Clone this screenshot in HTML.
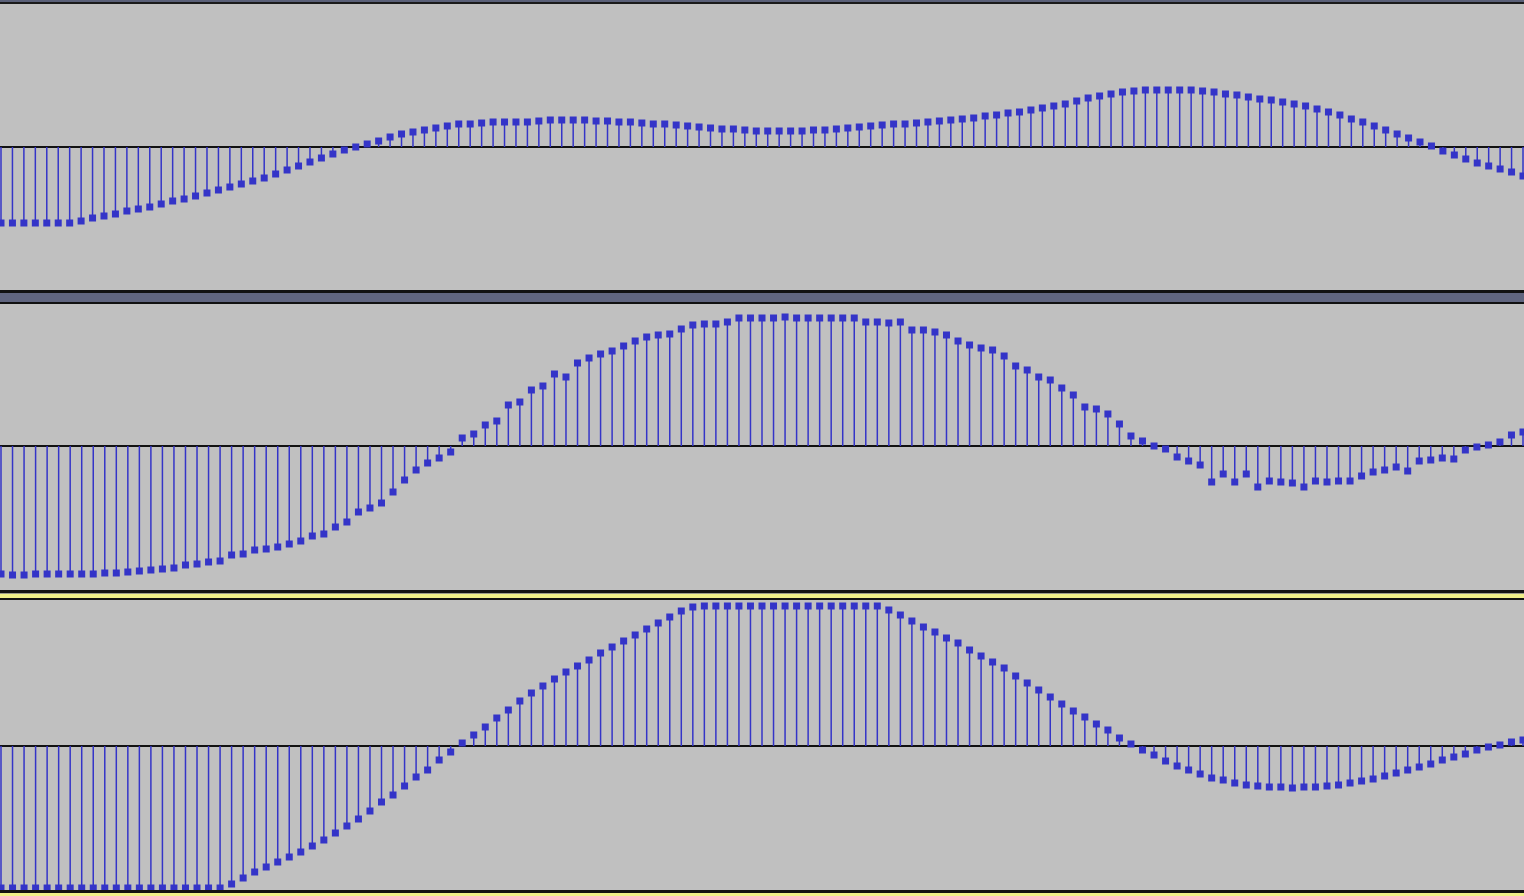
<!DOCTYPE html>
<html><head><meta charset="utf-8"><style>
html,body{margin:0;padding:0;background:#c0c0c0;}
svg{display:block;}
</style></head><body>
<svg id="chart" width="1524" height="896" viewBox="0 0 1524 896" xmlns="http://www.w3.org/2000/svg">
<rect x="0" y="0" width="1524" height="896" fill="#c0c0c0"/>
<rect x="0" y="0" width="1524" height="2" fill="#5a6078"/>
<rect x="0" y="2" width="1524" height="2" fill="#1a1a1a"/>
<rect x="0" y="290" width="1524" height="3" fill="#111"/>
<rect x="0" y="293" width="1524" height="9" fill="#60657f"/>
<rect x="0" y="302" width="1524" height="2" fill="#111"/>
<rect x="0" y="590" width="1524" height="3" fill="#111"/>
<rect x="0" y="593" width="1524" height="1" fill="#9a9a8a"/>
<rect x="0" y="594" width="1524" height="4" fill="#eeee88"/>
<rect x="0" y="598" width="1524" height="2" fill="#111"/>
<rect x="0" y="890" width="1524" height="3" fill="#111"/>
<rect x="0" y="893" width="1524" height="3" fill="#eeee88"/>
<g id="plots"></g>
</svg>
<script>
// sample levels on a +/-142 full-scale range
const track1Values = [-76,-76,-76,-76,-76,-76,-76,-74,-71,-69,-67,-64,-62,-60,-57,-54,-52,-49,-46,-43,-40,-37,-34,-31,-27,-23,-19,-15,-11,-7,-3,0,3,6,10,13,15,17,19,21,23,23,24,25,25,25,25,26,27,27,27,27,26,26,25,25,24,23,23,22,21,20,19,18,18,17,16,16,16,16,16,17,17,18,19,20,21,22,23,23,24,25,26,27,28,29,31,32,34,35,37,39,41,43,46,49,51,53,55,56,57,57,57,57,57,56,55,53,52,50,48,47,45,43,41,38,35,32,28,25,21,17,13,9,5,1,-4,-8,-12,-16,-19,-22,-25,-29];
const track2Values = [-128,-129,-129,-128,-128,-128,-128,-128,-128,-127,-127,-126,-125,-124,-123,-122,-119,-118,-116,-115,-109,-108,-104,-103,-101,-98,-95,-90,-88,-81,-76,-66,-62,-57,-46,-34,-24,-17,-12,-6,8,12,21,25,41,44,56,60,72,69,83,88,92,95,100,105,109,111,112,117,121,122,122,124,128,128,128,128,129,128,128,128,128,128,128,124,124,123,124,116,116,114,111,105,101,98,96,90,80,76,69,66,58,51,39,37,32,22,10,5,0,-3,-11,-15,-19,-36,-28,-36,-28,-41,-35,-36,-37,-41,-35,-36,-35,-35,-30,-26,-24,-21,-25,-15,-14,-12,-13,-4,-1,1,4,11,14];
const track3Values = [-142,-142,-142,-142,-142,-142,-142,-142,-142,-142,-142,-142,-142,-142,-142,-142,-142,-142,-142,-142,-138,-132,-126,-121,-116,-111,-106,-100,-94,-87,-80,-73,-65,-56,-49,-40,-31,-24,-14,-6,3,11,19,28,36,45,53,60,67,74,80,86,93,99,105,111,117,123,129,135,139,140,140,140,140,140,140,140,140,140,140,140,140,140,140,140,140,136,131,125,119,114,108,103,96,90,84,78,70,63,56,49,42,35,29,22,16,8,2,-4,-9,-15,-20,-24,-28,-32,-34,-37,-39,-40,-41,-41,-42,-41,-41,-40,-39,-37,-35,-33,-30,-27,-24,-21,-18,-14,-11,-8,-4,-1,1,4,6];

const FULL = 142;
const tracks = [
  {name:'track-1', values:track1Values, top:4, bottom:290, center:147},
  {name:'track-2', values:track2Values, top:304, bottom:590, center:446},
  {name:'track-3', values:track3Values, top:600, bottom:890, center:746}
];
const NS = 'http://www.w3.org/2000/svg';
const root = document.getElementById('plots');
const COLOR = '#3434c8';
tracks.forEach((t, ti) => {
  const n = t.values.length;
  const xScale = i => 1 + i * (1522 / (n - 1));
  const yScale = v => t.center - v * (FULL / 142);
  const g = document.createElementNS(NS, 'g');
  
  
  const clipId = 'clip' + ti;
  const cp = document.createElementNS(NS, 'clipPath');
  cp.setAttribute('id', clipId);
  const cr = document.createElementNS(NS, 'rect');
  cr.setAttribute('x', 0); cr.setAttribute('y', t.top);
  cr.setAttribute('width', 1524); cr.setAttribute('height', t.bottom - t.top);
  cp.appendChild(cr); g.appendChild(cp);
  g.setAttribute('clip-path', 'url(#' + clipId + ')');
  const zl = document.createElementNS(NS, 'line');
  
  
  zl.setAttribute('x1', 0); zl.setAttribute('x2', 1524);
  zl.setAttribute('y1', t.center); zl.setAttribute('y2', t.center);
  zl.setAttribute('stroke', '#111'); zl.setAttribute('stroke-width', 2);
  g.appendChild(zl);
  t.values.forEach((v, i) => {
    const x = xScale(i), y = yScale(v);
    const s = document.createElementNS(NS, 'line');
    
    
    s.setAttribute('x1', x); s.setAttribute('x2', x);
    s.setAttribute('y1', t.center); s.setAttribute('y2', y);
    s.setAttribute('stroke', COLOR); s.setAttribute('stroke-width', 1.5);
    g.appendChild(s);
    const m = document.createElementNS(NS, 'rect');
    
    
    m.setAttribute('x', x - 3.5); m.setAttribute('y', y - 3.5);
    m.setAttribute('width', 7); m.setAttribute('height', 7);
    m.setAttribute('fill', COLOR);
    g.appendChild(m);
  });
  root.appendChild(g);
});
</script>
</body></html>
